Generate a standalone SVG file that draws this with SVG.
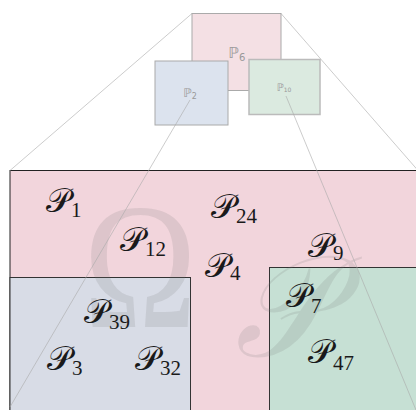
<svg xmlns="http://www.w3.org/2000/svg" width="416" height="410" viewBox="0 0 416 410">
<style>
.lab{font-family:"DejaVu Serif","Liberation Serif",serif;font-size:34px;fill:#1a1a1a}
.sub{font-family:"Liberation Serif",serif;font-size:21px}
.wm{fill:#777;fill-opacity:0.17}
.mini{font-family:"DejaVu Sans",sans-serif;fill:#999}
.conn{stroke:#aaa;stroke-width:0.6;fill:none}
</style>
<rect width="416" height="410" fill="#fff"/>
<g id="region-omega">
<rect x="10" y="170.5" width="410" height="245" fill="#f2d5dc" stroke="#222" stroke-width="1"/>
</g>
<g id="region-blue">
<rect x="10" y="277.5" width="180.5" height="140" fill="#d8dce6" stroke="#333" stroke-width="1"/>
</g>
<g id="region-green">
<rect x="269.5" y="267.5" width="150" height="150" fill="#c6e0d4" stroke="#333" stroke-width="1"/>
</g>
<g id="watermarks">
<text class="wm" transform="translate(140,327) scale(0.85,1)" text-anchor="middle" font-family="Liberation Serif" font-size="180">Ω</text>
<text class="wm" transform="translate(282,356) skewX(-12) scale(1.2,1.3)" text-anchor="middle" font-family="DejaVu Serif" font-size="110">𝒫</text>
</g>
<g id="mini-p6">
<rect x="192" y="13.5" width="89" height="77" fill="#f4e0e4" stroke="#aaa" stroke-width="1"/>
<text class="mini" x="237" y="58" text-anchor="middle" font-size="15">ℙ<tspan font-size="10" dy="3">6</tspan></text>
</g>
<g id="mini-p2">
<rect x="155" y="61" width="73" height="64" fill="#dce3ee" stroke="#aaa" stroke-width="1"/>
<text class="mini" x="190" y="97" text-anchor="middle" font-size="12">ℙ<tspan font-size="8" dy="2">2</tspan></text>
</g>
<g id="mini-p10">
<rect x="249" y="59.5" width="71" height="55" fill="#dbeae0" stroke="#bbb" stroke-width="1.5"/>
<text class="mini" x="284" y="91" text-anchor="middle" font-size="10">ℙ<tspan font-size="6" dy="1">10</tspan></text>
</g>
<g id="connectors">
<line class="conn" x1="192" y1="13.5" x2="10" y2="170.5"/>
<line class="conn" x1="281" y1="13.5" x2="418" y2="170.5"/>
<line class="conn" x1="190" y1="100" x2="10" y2="407"/>
<line class="conn" x1="286" y1="96" x2="416" y2="410"/>
</g>
<g id="n-p1"><text class="lab" x="46" y="212">𝒫<tspan class="sub" dy="5">1</tspan></text></g>
<g id="n-p24"><text class="lab" x="211" y="218">𝒫<tspan class="sub" dy="5">24</tspan></text></g>
<g id="n-p12"><text class="lab" x="120" y="251">𝒫<tspan class="sub" dy="5">12</tspan></text></g>
<g id="n-p9"><text class="lab" x="308" y="257">𝒫<tspan class="sub" dy="3">9</tspan></text></g>
<g id="n-p4"><text class="lab" x="205" y="277">𝒫<tspan class="sub" dy="3">4</tspan></text></g>
<g id="n-p39"><text class="lab" x="84" y="323">𝒫<tspan class="sub" dy="6">39</tspan></text></g>
<g id="n-p3"><text class="lab" x="47" y="370">𝒫<tspan class="sub" dy="5">3</tspan></text></g>
<g id="n-p32"><text class="lab" x="135" y="370">𝒫<tspan class="sub" dy="5">32</tspan></text></g>
<g id="n-p7"><text class="lab" x="286" y="307">𝒫<tspan class="sub" dy="6">7</tspan></text></g>
<g id="n-p47"><text class="lab" x="308" y="363">𝒫<tspan class="sub" dy="7">47</tspan></text></g>
</svg>
